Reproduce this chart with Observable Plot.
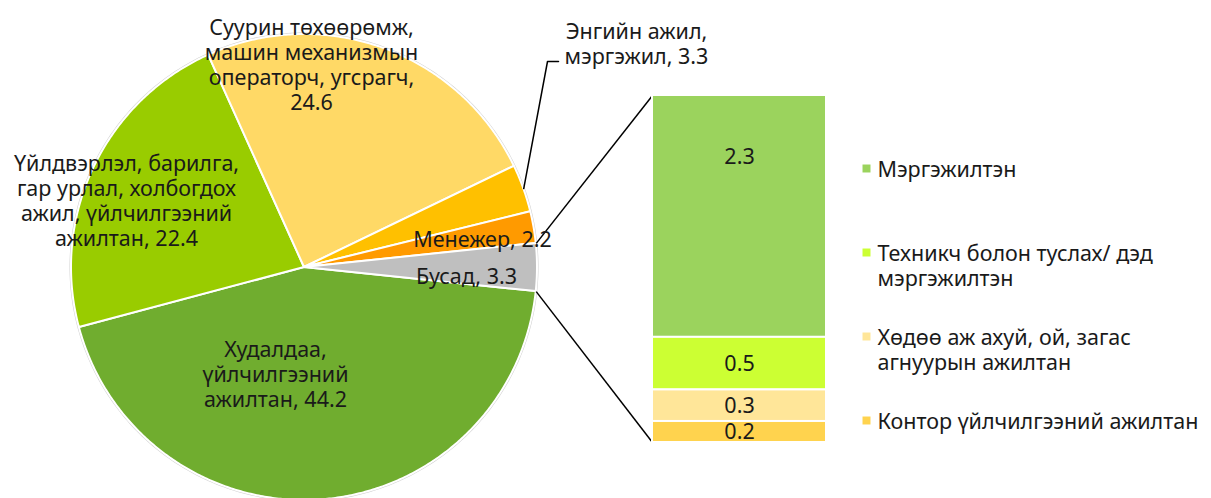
<!DOCTYPE html>
<html><head><meta charset="utf-8">
<script src="https://cdn.jsdelivr.net/npm/d3@7"></script>
<script src="https://cdn.jsdelivr.net/npm/@observablehq/plot@0.6"></script>
<style>
body{margin:0;background:#fff;}
#chart svg{display:block;}
g[aria-label="bar"]{filter:drop-shadow(1px 2px 2px rgba(0,0,0,0.28));}
</style></head><body><div id="chart"></div>
<script>
// ---- data ----
const pieCategories = ["Худалдаа, үйлчилгээний ажилтан", "Үйлдвэрлэл, барилга, гар урлал, холбогдох ажил, үйлчилгээний ажилтан", "Суурин төхөөрөмж, машин механизмын операторч, угсрагч", "Энгийн ажил, мэргэжил", "Менежер", "Бусад"];
const pieValues = [44.2, 22.4, 24.6, 3.3, 2.2, 3.3];
const pieColors = ["#70AD2F", "#99CC00", "#FFD966", "#FFC000", "#FF9A00", "#BFBFBF"];
const pieLabels = ["Худалдаа,\nүйлчилгээний\nажилтан, {v}", "Үйлдвэрлэл, барилга,\nгар урлал, холбогдох\nажил, үйлчилгээний\nажилтан, {v}", "Суурин төхөөрөмж,\nмашин механизмын\nоператорч, угсрагч,\n{v}", "Энгийн ажил,\nмэргэжил, {v}", "Менежер, {v}", "Бусад, {v}"];

const barCategories = ["Мэргэжилтэн", "Техникч болон туслах/ дэд\nмэргэжилтэн", "Хөдөө аж ахуй, ой, загас\nагнуурын ажилтан", "Контор үйлчилгээний ажилтан"];
const barValues = [2.3, 0.5, 0.3, 0.2];
const barColors = ["#9BD35D", "#CCFF33", "#FFE699", "#FFD34E"];

// ---- layout ----
const W = 1211, H = 498;
const cx = 304, cy = 267, R = 233;
const barX0 = 652, barX1 = 826, barTop = 95, barBottom = 442;
// label anchor offsets from pie centre (px)
const labelOffsets = [[-29, 106], [-178, -67], [7, -203], [332, -224], [178, -29], [162, 8]];
const leaderElbow = [[547, 61], [558, 61]];
const legendX = 866, legendTop = 168, legendStep = 84;
const lineH = 25, fontSize = 21.5;
const textColor = "#1a1a1a";

// ---- pie geometry ----
const total = d3.sum(pieValues);
const otherIdx = pieValues.length - 1;
const startDeg = (pieValues[otherIdx] / total) * 360 / 2;
const rad = d => d * Math.PI / 180;
let acc = startDeg;
const slices = pieValues.map((v, i) => {
  const a0 = acc, a1 = acc + v / total * 360; acc = a1;
  const pts = [];
  const n = Math.max(4, Math.ceil((a1 - a0) * 2));
  for (let j = 0; j <= n; j++) {
    const a = rad(a0 + (a1 - a0) * j / n);
    pts.push({x: cx + R * Math.cos(a), y: cy + R * Math.sin(a)});
  }
  return {i, name: pieCategories[i], value: v, color: pieColors[i], a0, a1, mid: (a0 + a1) / 2, pts};
});
const pieText = slices.map((s, i) => ({
  x: cx + labelOffsets[i][0], y: cy + labelOffsets[i][1],
  t: pieLabels[i].replace("{v}", s.value.toFixed(1))
}));

// leader for small labelled slice (Энгийн ажил)
const leadSlice = slices[3];
const leader = [
  {x: cx + R * Math.cos(rad(leadSlice.mid)), y: cy + R * Math.sin(rad(leadSlice.mid))},
  {x: leaderElbow[0][0], y: leaderElbow[0][1]},
  {x: leaderElbow[1][0], y: leaderElbow[1][1]}
];

// ---- bar geometry ----
const barTotal = d3.sum(barValues);
const by = d3.scaleLinear([0, barTotal], [barBottom, barTop]);
let cum = barTotal;
const segs = barValues.map((v, i) => {
  const top = cum, bot = cum - v; cum = bot;
  const yTop = by(top), yBot = by(bot);
  return {i, v, color: barColors[i], y1: yTop, y2: yBot,
          ly: yTop + Math.min((yBot - yTop) / 2, 62)};
});

// connectors from "other" slice corners to bar corners
const other = slices[otherIdx];
const connectors = [
  {x1: cx + R * Math.cos(rad(other.a0)), y1: cy + R * Math.sin(rad(other.a0)), x2: barX0, y2: barTop},
  {x1: cx + R * Math.cos(rad(other.a1)), y1: cy + R * Math.sin(rad(other.a1)), x2: barX0, y2: barBottom}
];

// legend
const legend = barCategories.map((t, i) => {
  const lines = t.split("\n").length;
  const y = legendTop + i * legendStep;
  return {t, color: barColors[i], my: y, ty: y + (lines - 1) * lineH / 2};
});

// pie outline shadow (circle) + wedges as areas between arc and centre
const rim = d3.range(0, 361, 1).map(d => ({x: cx + R * Math.cos(rad(d)), y: cy + R * Math.sin(rad(d))}));
const pieMarks = slices.map(s =>
  Plot.area(s.pts, {x1: "x", y1: "y", x2: cx, y2: cy, fill: s.color, stroke: "white", strokeWidth: 2, strokeLinejoin: "round", curve: "linear"})
);

const chart = Plot.plot({
  width: W, height: H,
  margin: 0,
  x: {domain: [0, W], range: [0, W], axis: null},
  y: {domain: [0, H], range: [0, H], axis: null},
  color: {type: "identity"},
  style: {fontFamily: "'Noto Sans', sans-serif", fontSize: fontSize + "px", color: textColor},
  marks: [
    Plot.area(rim, {x1: "x", y1: "y", x2: cx, y2: cy, fill: "#d9d9d9", stroke: "#d0d0d0", strokeWidth: 3, curve: "linear"}),
    ...pieMarks,
    Plot.link(connectors, {x1: "x1", y1: "y1", x2: "x2", y2: "y2", stroke: "black", strokeWidth: 1.5}),
    Plot.line(leader, {x: "x", y: "y", stroke: "black", strokeWidth: 1.5, curve: "linear"}),
    Plot.rect(segs, {x1: barX0, x2: barX1, y1: "y1", y2: "y2", fill: "color", stroke: "white", strokeWidth: 2, ariaLabel: "bar"}),
    Plot.text(segs, {x: (barX0 + barX1) / 2, y: "ly", text: d => d.v.toFixed(1), fill: textColor, fontSize}),
    Plot.text(pieText, {x: "x", y: "y", text: "t", fill: textColor, fontSize, lineHeight: lineH / fontSize}),
    Plot.dot(legend, {x: legendX, y: "my", symbol: "square", r: 4.5, fill: "color", stroke: null}),
    Plot.text(legend, {x: legendX + 11, y: "ty", text: "t", textAnchor: "start", fill: textColor, fontSize, lineHeight: lineH / fontSize})
  ]
});
document.getElementById("chart").appendChild(chart);
</script></body></html>
